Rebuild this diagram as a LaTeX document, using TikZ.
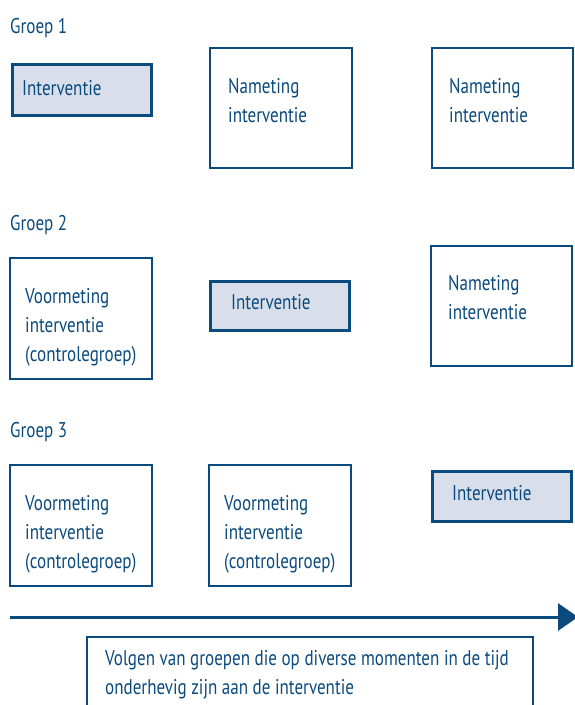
\documentclass[tikz,border=0pt]{standalone}
\usepackage{fontspec}
\setmainfont{PT Sans}[FakeStretch=0.8]
\usetikzlibrary{arrows.meta}
\definecolor{dblue}{HTML}{0B4A7D}
\definecolor{lfill}{HTML}{D9DEEB}
\begin{document}
\begin{tikzpicture}[x=1pt,y=-1pt,
  txt/.style={anchor=base west,inner sep=0pt,text=dblue,font=\fontsize{21.3}{29}\selectfont},
  plainbox/.style={draw=dblue,line width=1.4pt,fill=white},
  intbox/.style={draw=dblue,line width=3pt,fill=lfill}]
\useasboundingbox (0,0) rectangle (574,705);
% Groep labels
\node[txt] (g1) at (10,33) {Groep 1};
\node[txt] (g2) at (10,230) {Groep 2};
\node[txt] (g3) at (10,437) {Groep 3};
% Row 1
\draw[intbox] (12,64) rectangle (151,115);
\node[txt] (r1a) at (22,95) {Interventie};
\draw[plainbox] (210,48) rectangle (352,168);
\node[txt] (r1b1) at (228,93) {Nameting};
\node[txt] (r1b2) at (228,122) {interventie};
\draw[plainbox] (432,48) rectangle (573,168);
\node[txt] (r1c1) at (449,93) {Nameting};
\node[txt] (r1c2) at (449,122) {interventie};
% Row 2
\draw[plainbox] (10,258) rectangle (152,379);
\node[txt] (r2a1) at (25,303) {Voormeting};
\node[txt] (r2a2) at (25,332) {interventie};
\node[txt] (r2a3) at (25,361) {(controlegroep)};
\draw[intbox] (210,281) rectangle (349,330);
\node[txt] (r2b) at (231,309) {Interventie};
\draw[plainbox] (431,246) rectangle (572,366);
\node[txt] (r2c1) at (448,290) {Nameting};
\node[txt] (r2c2) at (448,319) {interventie};
% Row 3
\draw[plainbox] (10,465) rectangle (152,586);
\node[txt] (r3a1) at (25,510) {Voormeting};
\node[txt] (r3a2) at (25,539) {interventie};
\node[txt] (r3a3) at (25,568) {(controlegroep)};
\draw[plainbox] (209,465) rectangle (351,586);
\node[txt] (r3b1) at (224,510) {Voormeting};
\node[txt] (r3b2) at (224,539) {interventie};
\node[txt] (r3b3) at (224,568) {(controlegroep)};
\draw[intbox] (432,471) rectangle (571,521);
\node[txt] (r3c) at (452,500) {Interventie};
% Time arrow
\coordinate (as) at (10,617);
\coordinate (ae) at (578,617);
\draw[dblue,line width=3pt,-{Triangle[length=20pt,width=27pt]}] (as) -- (ae);
% Bottom box
\draw[dblue,line width=1.4pt] (87,712) -- (87,637) -- (533,637) -- (533,712);
\node[txt] (b1) at (105,665) {Volgen van groepen die op diverse momenten in de tijd};
\node[txt] (b2) at (105,694) {onderhevig zijn aan de interventie};
\end{tikzpicture}
\end{document}
